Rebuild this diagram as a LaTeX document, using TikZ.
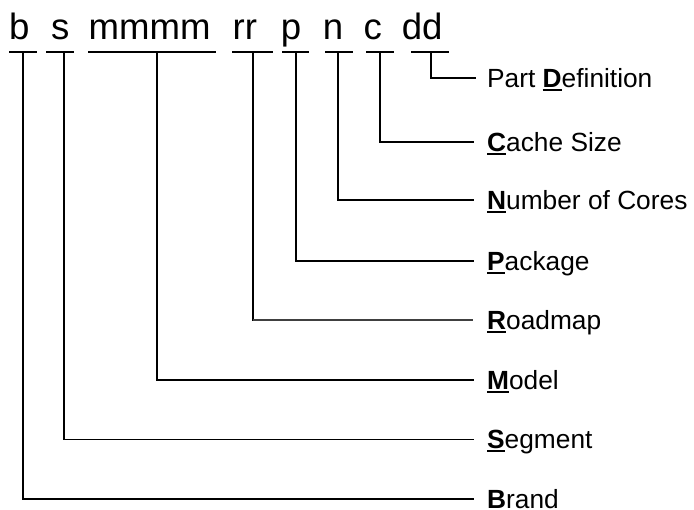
\documentclass[tikz,border=0pt]{standalone}
\usepackage{fontspec}
\setmainfont{Liberation Sans}
\newcommand\firstul[1]{\setbox0\hbox{\bfseries #1}\rlap{\rule[-3.3pt]{\wd0}{2pt}}\box0}
\begin{document}
\begin{tikzpicture}[x=1pt,y=-1pt,
  code/.style={anchor=base west,inner sep=0pt,font=\fontsize{36.6}{40}\selectfont},
  lbl/.style={anchor=west,inner sep=0pt,text height=18.8pt,text depth=0pt,font=\fontsize{26.3}{30}\selectfont},
  conn/.style={line width=1.4pt,line cap=rect},
  thinconn/.style={line width=1.1pt,black!75}]
\useasboundingbox (0,0) rectangle (694,510);
% code letters
\node[code] (cb) at (9,40) {b};
\node[code] (cs) at (51,40) {s};
\node[code] (cm) at (88.5,40) {mmmm};
\node[code] (cr) at (232.5,40) {rr};
\node[code] (cp) at (280.6,40) {p};
\node[code] (cn) at (322.6,40) {n};
\node[code] (cc) at (363.5,40) {c};
\node[code] (cd) at (401.6,40) {dd};
% underlines
\draw[conn] (10,52) -- (36,52);
\draw[conn] (47,52) -- (73,52);
\draw[conn] (89,52) -- (215,52);
\draw[conn] (233,52) -- (272,52);
\draw[conn] (283,52) -- (308,52);
\draw[conn] (326,52) -- (352,52);
\draw[conn] (367,52) -- (393,52);
\draw[conn] (412,52) -- (448,52);
% stems
\coordinate (tb) at (23,52);
\coordinate (ts) at (64,52);
\coordinate (tm) at (157,52);
\coordinate (tr) at (253,52);
\coordinate (tp) at (296,52);
\coordinate (tn) at (338,52);
\coordinate (tc) at (380,52);
\coordinate (td) at (431,52);
% labels
\node[lbl] (lD) at (487,78) {Part \firstul{D}efinition};
\node[lbl] (lC) at (487,142) {\firstul{C}ache Size};
\node[lbl] (lN) at (487,200) {\firstul{N}umber of Cores};
\node[lbl] (lP) at (487,261) {\firstul{P}ackage};
\node[lbl] (lR) at (487,320) {\firstul{R}oadmap};
\node[lbl] (lM) at (487,380) {\firstul{M}odel};
\node[lbl] (lS) at (487,439.5) {\firstul{S}egment};
\node[lbl] (lB) at (487,499) {\firstul{B}rand};
% connectors
\draw[conn] (td) |- ([xshift=-12pt]lD.west);
\draw[conn] (tc) |- ([xshift=-14pt]lC.west);
\draw[conn] (tn) |- ([xshift=-14pt]lN.west);
\draw[conn] (tp) |- ([xshift=-14pt]lP.west);
\draw[conn] (tr) -- (tr |- lR.west);
\draw[thinconn] (tr |- lR.west) -- ([xshift=-14pt]lR.west);
\draw[conn] (tm) |- ([xshift=-14pt]lM.west);
\draw[conn] (ts) |- ([xshift=-14pt]lS.west);
\draw[conn] (tb) |- ([xshift=-14pt]lB.west);
\end{tikzpicture}
\end{document}
